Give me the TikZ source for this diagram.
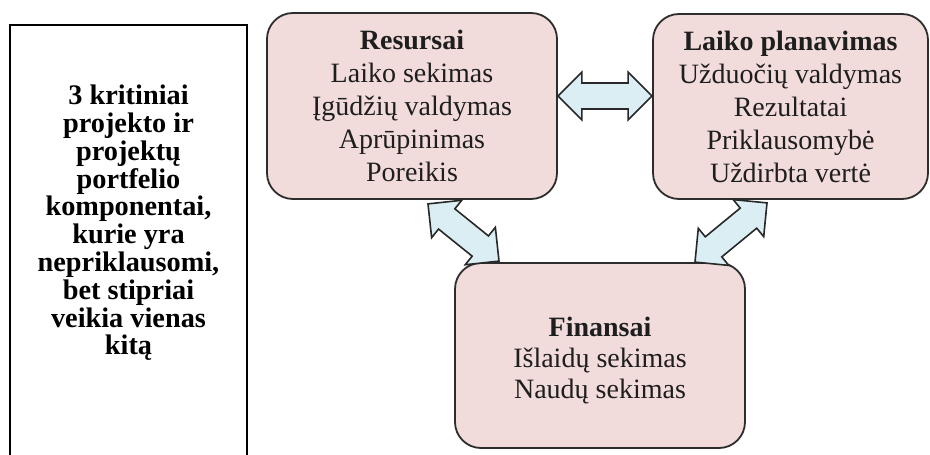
\documentclass[tikz,border=0pt]{standalone}
\usepackage{fontspec}
\setmainfont{Liberation Serif}
\usetikzlibrary{calc}
\definecolor{boxfill}{RGB}{242,220,219}
\definecolor{boxline}{RGB}{45,45,45}
\definecolor{arrfill}{RGB}{219,238,244}
\definecolor{arrline}{RGB}{40,40,40}
\definecolor{txt}{RGB}{30,30,30}
\tikzset{
  cbox/.style={draw=boxline, fill=boxfill, rounded corners=26pt, line width=1.8pt,
    inner sep=0pt, align=center, text=txt, font=\fontsize{28}{33}\selectfont},
  boxtext/.style={inner sep=0pt, align=center, text=txt, font=\fontsize{28}{31}\selectfont},
  arrowshape/.style={draw=arrline, fill=arrfill, line width=1.6pt, line join=miter},
  notetext/.style={font=\bfseries\fontsize{28.3}{27.8}\selectfont, align=center, text=black, inner sep=0pt},
  noteframe/.style={draw=black, line width=1.5pt}
}
\newcommand\dblarrow[2]{%
  \coordinate (ha) at ($(#1)!24pt!(#2)$);
  \coordinate (hb) at ($(#2)!24pt!(#1)$);
  \filldraw[arrowshape] (#1) -- ($(ha)!24pt!90:(#2)$) -- ($(ha)!13pt!90:(#2)$)
    -- ($(hb)!13pt!90:(#2)$) -- ($(hb)!24pt!90:(#2)$) -- (#2)
    -- ($(hb)!24pt!-90:(#2)$) -- ($(hb)!13pt!-90:(#2)$)
    -- ($(ha)!13pt!-90:(#2)$) -- ($(ha)!24pt!-90:(#2)$) -- cycle;}
\begin{document}
\begin{tikzpicture}[x=1pt,y=-1pt]
\useasboundingbox (0,0) rectangle (930,455);
\fill[white] (0,0) rectangle (930,455);
% left note box (open at the bottom)
\draw[noteframe] (10,455) -- (10,25) -- (247,25) -- (247,455);
\node[notetext] (note) at (128.5,223) {3 kritiniai\\projekto ir\\projektų\\portfelio\\komponentai,\\kurie yra\\nepriklausomi,\\bet stipriai\\veikia vienas\\kitą};
% component boxes
\node[cbox, minimum width=290pt, minimum height=186pt] (res) at (412,106)
  {\textbf{Resursai}\\Laiko sekimas\\Įgūdžių valdymas\\Aprūpinimas\\Poreikis};
\node[cbox, minimum width=275pt, minimum height=185pt] (lai) at (790.5,106.5)
  {\textbf{Laiko planavimas}\\Užduočių valdymas\\Rezultatai\\Priklausomybė\\Uždirbta vertė};
\node[cbox, minimum width=290pt, minimum height=185pt] (fin) at (600,355.5) {};
\node[boxtext] (fintext) at ($(fin.center)+(0,5)$)
  {\textbf{Finansai}\\Išlaidų sekimas\\Naudų sekimas};
% arrow end points
\coordinate (h1) at ($(res.east)+(0,-10)$);
\coordinate (h2) at ($(lai.west)+(0,-10.5)$);
\coordinate (d1) at ($(res.south)+(16,4)$);
\coordinate (d2) at ($(fin.north)+(-101,-1)$);
\coordinate (e1) at ($(lai.south)+(-23.5,3)$);
\coordinate (e2) at ($(fin.north)+(95,0)$);
\dblarrow{h1}{h2}
\dblarrow{d1}{d2}
\dblarrow{e1}{e2}
\end{tikzpicture}
\end{document}
